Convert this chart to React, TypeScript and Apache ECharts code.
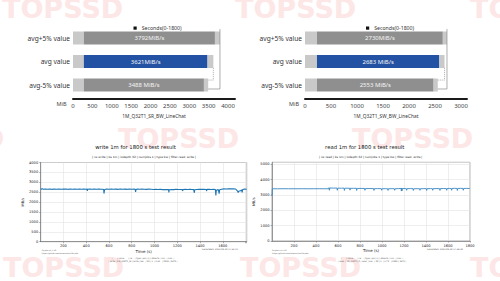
import React, { useEffect, useRef } from "react";
import * as echarts from "echarts";

// ---------- top bar charts ----------
const barCategories = ["avg+5% value", "avg value", "avg-5% value"];
const leftValues = [3792, 3621, 3488];
const leftLabels = ["3792MiB/s", "3621MiB/s", "3488 MiB/s"];
const leftHead = [280, 280, 280];
const leftTail = [130, 150, 110];
const rightValues = [2730, 2683, 2553];
const rightLabels = ["2730MiB/s", "2683 MiB/s", "2553 MiB/s"];
const rightHead = [230, 230, 230];
const rightTail = [80, 100, 80];
const legendName = "Seconds(0-1800)";
const leftCaption = "1M_Q32T1_SR_BW_LineChat";
const rightCaption = "1M_Q32T1_SW_BW_LineChat";
const axisUnit = "MiB";

// ---------- bottom line charts ----------
const writeTitle = "write 1m for 1800 s test result";
const writeSub = "| rw write | bs 1m | iodepth 32 | numjobs 1 | type bw | filter read, write |";
const readTitle = "read 1m for 1800 s test result";
const readSub = "| rw read | bs 1m | iodepth 32 | numjobs 1 | type bw | filter read, write |";

const writeSeries: [number, number][] = [
  [0, 2670], [8, 2655], [15, 2672], [25, 2648], [40, 2660], [60, 2650], [80, 2662], [100, 2645],
  [120, 2658], [140, 2650], [160, 2663], [180, 2647], [200, 2655], [220, 2660], [240, 2645],
  [260, 2658], [280, 2650], [300, 2662], [320, 2648], [340, 2655], [360, 2650], [380, 2660],
  [400, 2648], [408, 2655], [410, 2560], [412, 2650], [430, 2658], [450, 2646], [470, 2660],
  [490, 2650], [510, 2655], [530, 2648], [550, 2652], [554, 2600], [556, 2430], [558, 2520],
  [562, 2640], [580, 2660], [600, 2648], [620, 2663], [640, 2650], [660, 2657], [680, 2645],
  [700, 2660], [720, 2650], [740, 2655], [760, 2645], [780, 2660], [800, 2650], [820, 2655],
  [830, 2650], [834, 2520], [837, 2640], [850, 2655], [870, 2648], [890, 2660], [910, 2650],
  [930, 2645], [950, 2658], [970, 2650], [990, 2640], [1010, 2648], [1030, 2635], [1050, 2645],
  [1070, 2630], [1090, 2640], [1110, 2630], [1124, 2628], [1126, 2490], [1129, 2625],
  [1150, 2640], [1170, 2630], [1190, 2645], [1210, 2635], [1230, 2640], [1245, 2630],
  [1247, 2560], [1250, 2635], [1270, 2645], [1290, 2640], [1310, 2648], [1330, 2640],
  [1345, 2630], [1349, 2470], [1353, 2620], [1370, 2640], [1390, 2650], [1410, 2645],
  [1430, 2650], [1455, 2640], [1458, 2560], [1461, 2645], [1480, 2650], [1500, 2640],
  [1520, 2648], [1535, 2630], [1539, 2330], [1543, 2600], [1560, 2630], [1568, 2430],
  [1572, 2620], [1590, 2650], [1610, 2670], [1630, 2665], [1650, 2672], [1670, 2668],
  [1690, 2675], [1710, 2665], [1720, 2620], [1730, 2560], [1735, 2480], [1740, 2550],
  [1755, 2570], [1765, 2620], [1770, 2490], [1775, 2640], [1790, 2655], [1810, 2650],
];

const readSeries: [number, number][] = [
  [0, 3050], [1, 2980], [2, 3380], [10, 3400], [50, 3395], [100, 3402], [150, 3398], [200, 3400],
  [228, 3398], [230, 3360], [232, 3400], [280, 3402], [330, 3398], [380, 3400], [430, 3402],
  [480, 3398], [515, 3400], [518, 3470], [522, 3300], [526, 3450], [560, 3440], [590, 3445],
  [594, 3300], [598, 3440], [630, 3435], [655, 3440], [658, 3290], [662, 3435], [690, 3430],
  [706, 3435], [709, 3310], [713, 3430], [740, 3425], [767, 3430], [770, 3290], [774, 3420],
  [810, 3420], [842, 3415], [845, 3300], [849, 3410], [890, 3415], [924, 3410], [927, 3290],
  [931, 3405], [960, 3410], [994, 3405], [997, 3300], [1001, 3400], [1030, 3405], [1052, 3400],
  [1055, 3290], [1059, 3400], [1090, 3405], [1112, 3400], [1115, 3300], [1119, 3400],
  [1150, 3410], [1174, 3420], [1176, 3250], [1179, 3440], [1182, 3270], [1185, 3420],
  [1210, 3410], [1221, 3410], [1224, 3300], [1228, 3405], [1260, 3410], [1282, 3405],
  [1285, 3290], [1289, 3400], [1320, 3405], [1342, 3400], [1345, 3300], [1349, 3400],
  [1380, 3410], [1403, 3405], [1406, 3290], [1410, 3405], [1440, 3410], [1458, 3405],
  [1461, 3300], [1465, 3405], [1500, 3410], [1524, 3405], [1527, 3290], [1531, 3410],
  [1560, 3415], [1585, 3410], [1588, 3300], [1592, 3410], [1615, 3420], [1630, 3415],
  [1633, 3300], [1637, 3420], [1660, 3425], [1682, 3420], [1685, 3290], [1689, 3420],
  [1715, 3425], [1736, 3420], [1739, 3300], [1743, 3420], [1770, 3420], [1797, 3415],
  [1800, 3380],
];

const LIGHT = "#c9c9c9";
const DARK = "#8f8f8f";
const BLUE = "#2352a4";
const bodyColors = [DARK, BLUE, DARK];
const MPL = "DejaVu Sans";
const SANS = "Noto Sans";
const plain = (v: number) => String(v);

function barSeries(gi: number, vals: number[], head: number[], tail: number[], labels: string[]) {
  const stack = "s" + gi;
  const common = { type: "bar", stack, xAxisIndex: gi, yAxisIndex: gi * 2, barWidth: 13 };
  return [
    { ...common, name: "head" + gi, data: head, itemStyle: { color: LIGHT } },
    {
      ...common,
      name: legendName,
      data: vals.map((v, i) => ({ value: v - head[i] - tail[i], itemStyle: { color: bodyColors[i] } })),
      label: {
        show: true,
        position: "inside",
        formatter: (p: any) => labels[p.dataIndex],
        color: "#f4f4f4",
        fontSize: 6,
        fontFamily: SANS,
      },
    },
    { ...common, name: "tail" + gi, data: tail, itemStyle: { color: LIGHT } },
    {
      type: "line",
      xAxisIndex: gi,
      yAxisIndex: gi * 2 + 1,
      data: [[vals[0], 0.12], [vals[0], 2.67], [vals[2], 2.67]],
      symbol: "none",
      lineStyle: { color: "#8a8a8a", width: 0.7 },
      z: 5,
    },
    {
      type: "line",
      xAxisIndex: gi,
      yAxisIndex: gi * 2 + 1,
      data: [[vals[1], 1.77], [vals[1], 2.29], [vals[2], 2.29]],
      symbol: "none",
      lineStyle: { color: "#8a8a8a", width: 0.7, type: [1, 1] },
      z: 5,
    },
  ];
}

function barX(gi: number, max: number) {
  return {
    type: "value",
    gridIndex: gi,
    min: 0,
    max,
    interval: 500,
    offset: 2,
    position: "bottom",
    axisLine: { show: true, onZero: false, lineStyle: { color: "#1a1a1a", width: 2 } },
    axisTick: { show: false },
    splitLine: { show: false },
    axisLabel: { fontSize: 6, color: "#444", margin: 4, showMaxLabel: false, fontFamily: SANS, formatter: plain },
  };
}

function barY(gi: number) {
  return [
    {
      type: "category",
      gridIndex: gi,
      data: barCategories,
      inverse: true,
      axisLine: { show: false },
      axisTick: { show: false },
      axisLabel: { fontSize: 6.6, color: "#333", margin: 3, fontFamily: SANS },
    },
    { type: "value", gridIndex: gi, min: 0, max: 3, inverse: true, show: false },
  ];
}

function lineX(gi: number, max: number, lastLabel: number) {
  return {
    type: "value",
    gridIndex: gi,
    min: 0,
    max,
    interval: 200,
    name: "Time (s)",
    nameLocation: "middle",
    nameGap: 6,
    nameTextStyle: { fontSize: 4, color: "#222", fontFamily: MPL },
    axisLine: { show: true, onZero: false, lineStyle: { color: "#666", width: 0.6 } },
    axisTick: { show: true, length: 1.5, lineStyle: { color: "#666", width: 0.5 } },
    splitLine: { show: true, lineStyle: { color: "#e3e3e3", width: 0.6 } },
    axisLabel: {
      fontSize: 3.6, color: "#222", margin: 2.5, showMinLabel: false, showMaxLabel: true,
      fontFamily: MPL, formatter: (v: number) => (v > lastLabel ? "" : String(v)),
    },
  };
}

function lineY(gi: number, max: number, interval: number, gap: number) {
  return {
    type: "value",
    gridIndex: gi,
    min: 0,
    max,
    interval,
    name: "MB/s",
    nameLocation: "middle",
    nameRotate: 90,
    nameGap: gap,
    nameTextStyle: { fontSize: 3.6, color: "#222", fontFamily: MPL },
    axisLine: { show: true, onZero: false, lineStyle: { color: "#666", width: 0.6 } },
    axisTick: { show: true, length: 1.5, lineStyle: { color: "#666", width: 0.5 } },
    splitLine: { show: true, lineStyle: { color: "#e3e3e3", width: 0.6 } },
    axisLabel: {
      fontSize: 3.6, color: "#222", margin: 2.5, showMaxLabel: max % interval === 0,
      fontFamily: MPL, formatter: plain,
    },
  };
}

function watermark(x: number, y: number) {
  return {
    type: "text",
    x,
    y,
    z: -10,
    silent: true,
    style: {
      text: "TOPSSD",
      fill: "#fde6e6",
      fontSize: 27,
      fontWeight: "bold",
      fontFamily: "DejaVu Sans",
      verticalAlign: "middle",
      align: "left",
    },
  };
}

function tinyText(x: number, y: number, text: string, size: number, align = "left", color = "#555", font = MPL) {
  return {
    type: "text",
    x,
    y,
    silent: true,
    style: {
      text,
      fill: color,
      fontSize: size,
      fontFamily: font,
      align,
      verticalAlign: "middle",
    },
  };
}

export default function App() {
  const ref = useRef<HTMLDivElement>(null);
  useEffect(() => {
    if (!ref.current) return;
    const chart = echarts.init(ref.current, null, { renderer: "svg" });
    const legendItem = (left: number) => ({
      left,
      top: 20.6,
      itemWidth: 3.2,
      itemHeight: 3.2,
      itemGap: 5,
      selectedMode: false,
      data: [{ name: legendName, icon: "rect", itemStyle: { color: "#111" } }],
      textStyle: { fontSize: 5.2, color: "#333", fontFamily: SANS },
    });
    chart.setOption({
      animation: false,
      backgroundColor: "#ffffff",
      grid: [
        { left: 73, top: 26.25, width: 162, height: 70.5 },
        { left: 305, top: 26.25, width: 162, height: 70.5 },
        { left: 40.7, top: 162.5, width: 206, height: 79.2, show: true, borderColor: "#777", borderWidth: 0.6 },
        { left: 272, top: 162.3, width: 198, height: 78.7, show: true, borderColor: "#777", borderWidth: 0.6 },
      ],
      legend: [legendItem(128.5), legendItem(361)],
      xAxis: [barX(0, 4180), barX(1, 3115), lineX(2, 1810, 1600), lineX(3, 1800, 1800)],
      yAxis: [...barY(0), ...barY(1), lineY(2, 4000, 500, 10), lineY(3, 5120, 1000, 11)],
      series: [
        ...barSeries(0, leftValues, leftHead, leftTail, leftLabels),
        ...barSeries(1, rightValues, rightHead, rightTail, rightLabels),
        {
          type: "line",
          xAxisIndex: 2,
          yAxisIndex: 4,
          data: writeSeries,
          showSymbol: false,
          lineStyle: { color: "#1f77b4", width: 1.1 },
        },
        {
          type: "line",
          xAxisIndex: 3,
          yAxisIndex: 5,
          data: readSeries,
          showSymbol: false,
          lineStyle: { color: "#3a87c2", width: 0.9 },
        },
      ],
      graphic: [
        watermark(2, 8),
        watermark(235, 8),
        watermark(470, 8),
        watermark(-117, 138),
        watermark(118, 138),
        watermark(352, 138),
        watermark(3, 267),
        watermark(240, 267),
        watermark(470, 267),
        tinyText(66.5, 104, axisUnit, 5.5, "right", "#444", SANS),
        tinyText(299, 104, axisUnit, 5.5, "right", "#444", SANS),
        tinyText(154, 116, leftCaption, 4.8, "center", "#333", SANS),
        tinyText(386, 116, rightCaption, 4.8, "center", "#333", SANS),
        tinyText(135.5, 147.3, writeTitle, 5.3, "center", "#222"),
        tinyText(144, 157, writeSub, 2.9, "center", "#222"),
        tinyText(364.7, 147.3, readTitle, 5.3, "center", "#222"),
        tinyText(370.7, 157, readSub, 2.9, "center", "#222"),
        tinyText(41.7, 250.4, "fio-plot v1.1.16", 1.9),
        tinyText(41.7, 252.7, "https://github.com/louwrentius/fio-plot", 1.9),
        tinyText(238, 249.3, "Generated: 2023-08-29 17:42:11", 2.2, "right"),
        tinyText(272, 250.4, "fio-plot v1.1.16", 1.9),
        tinyText(272, 252.7, "https://github.com/louwrentius/fio-plot", 1.9),
        tinyText(463, 249.3, "Generated: 2023-08-29 17:58:40", 2.2, "right"),
        tinyText(143, 258, "|       | name      | rw    | type | qd | nj | stdev% | min  | max  |", 2.1, "center"),
        tinyText(143, 261.6, "| write | 1M_Q32T1_W | write | bw   | 32 | 1  | 0.61   | 2330 | 2675 |", 2.1, "center"),
        tinyText(372, 258, "|       | name      | rw    | type | qd | nj | stdev% | min  | max  |", 2.1, "center"),
        tinyText(372, 261.6, "| read  | 1M_Q32T1_R | read  | bw   | 32 | 1  | 0.72   | 2980 | 3470 |", 2.1, "center"),
      ],
    });
    return () => chart.dispose();
  }, []);
  return (
    <div
      ref={ref}
      style={{ position: "fixed", left: 0, top: 0, width: 500, height: 281, background: "#fff" }}
    />
  );
}
